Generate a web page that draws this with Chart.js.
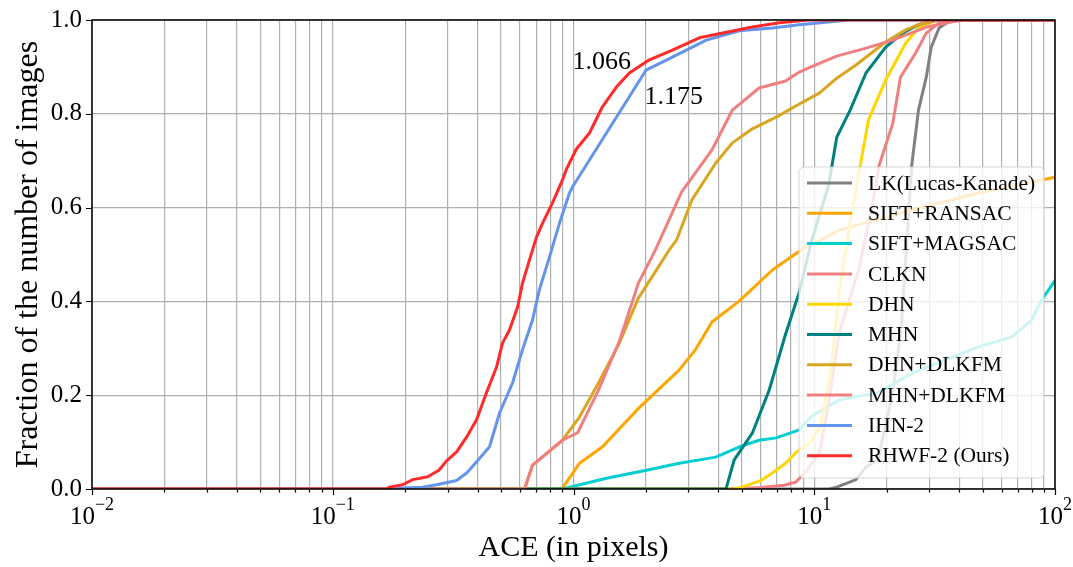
<!DOCTYPE html>
<html>
<head>
<meta charset="utf-8">
<script src="https://cdn.jsdelivr.net/npm/chart.js@4/dist/chart.umd.min.js"></script>
<style>
  html, body { margin: 0; padding: 0; background: #fff; }
  canvas { display: block; }
</style>
</head>
<body>
<canvas id="c" width="1073" height="567"></canvas>
<script>
// ---- data: cumulative fraction of images vs. ACE (pixels), as [ace, fraction] pairs ----
const seriesNames = ['LK(Lucas-Kanade)', 'SIFT+RANSAC', 'SIFT+MAGSAC', 'CLKN', 'DHN', 'MHN',
                     'DHN+DLKFM', 'MHN+DLKFM', 'IHN-2', 'RHWF-2 (Ours)'];

const lkPts = [[0.01,0],[11.5,0],[12.4,0.004],[14.9,0.02],[16.4,0.047],[18.4,0.062],[21.2,0.205],
  [23,0.345],[25.4,0.69],[27.1,0.808],[29.2,0.878],[30.6,0.942],[33,0.983],[36,0.996],[40,1],[100,1]];

const siftRansacPts = [[0.01,0],[0.88,0],[0.9,0.002],[1.06,0.055],[1.32,0.09],[1.83,0.168],[2.75,0.254],
  [3.2,0.296],[3.76,0.356],[4.89,0.401],[6.7,0.467],[8.67,0.507],[12.7,0.552],[25.5,0.595],[48,0.631],[100,0.665]];

const siftMagsacPts = [[0.01,0],[0.9,0],[1.37,0.023],[2.01,0.04],[2.75,0.055],[3.9,0.068],[4.89,0.09],
  [5.9,0.104],[6.95,0.109],[8.67,0.126],[9.7,0.154],[12.7,0.19],[18.4,0.205],[25.5,0.247],[35,0.275],
  [48,0.303],[66,0.324],[80,0.36],[88,0.403],[100,0.445]];

const clknPts = [[0.01,0],[4.5,0],[6.0,0.003],[7.5,0.008],[8.4,0.015],[9.5,0.045],[10.5,0.077],[11.4,0.175],
  [12.7,0.333],[15.4,0.473],[17.8,0.631],[18.6,0.69],[21.2,0.78],[22.8,0.878],[26.4,0.93],[29.2,0.972],
  [33,0.994],[36,1],[100,1]];

const dhnPts = [[0.01,0],[4.6,0],[5.0,0.004],[6.0,0.018],[6.7,0.034],[7.6,0.055],[8.5,0.08],[9.7,0.1],
  [10.6,0.135],[11.7,0.25],[12.7,0.42],[14.1,0.57],[15.4,0.68],[16.8,0.787],[19.8,0.872],[24,0.951],
  [27.1,0.983],[32,1],[100,1]];

const mhnPts = [[0.01,0],[4.3,0],[4.65,0.062],[5.53,0.119],[6.5,0.211],[7.6,0.33],[8.67,0.42],[9.7,0.525],
  [11.5,0.65],[12.4,0.75],[14.1,0.808],[16.4,0.887],[19.8,0.942],[23.3,0.972],[27.1,0.99],[32,1],[100,1]];

const dhnDlkfmPts = [[0.01,0],[0.626,0],[0.676,0.051],[0.9,0.104],[1.06,0.154],[1.27,0.226],[1.55,0.311],
  [1.86,0.407],[2.25,0.473],[2.5,0.51],[2.68,0.531],[3.1,0.616],[3.9,0.695],[4.57,0.738],[5.53,0.768],
  [6.95,0.793],[8.67,0.821],[10.5,0.844],[12.4,0.876],[14.9,0.904],[19.8,0.953],[24,0.979],[27.1,0.99],
  [33,1],[100,1]];

const mhnDlkfmPts = [[0.01,0],[0.626,0],[0.676,0.051],[0.9,0.104],[1.04,0.12],[1.27,0.211],[1.55,0.315],
  [1.86,0.439],[2.19,0.51],[2.81,0.633],[3.76,0.723],[4.57,0.808],[5.9,0.855],[7.6,0.87],[8.67,0.889],
  [9.7,0.9],[12.4,0.923],[16.4,0.94],[21.2,0.957],[29.2,0.985],[37.5,0.996],[42,1],[100,1]];

const ihn2Pts = [[0.01,0],[0.184,0],[0.195,0.002],[0.236,0.004],[0.27,0.009],[0.327,0.018],[0.36,0.034],
  [0.396,0.058],[0.448,0.09],[0.493,0.162],[0.558,0.226],[0.614,0.297],[0.676,0.361],[0.722,0.425],
  [0.795,0.495],[0.875,0.567],[0.962,0.631],[0.99,0.644],[2.0,0.893],[2.575,0.921],[3.56,0.957],
  [4.89,0.977],[6.7,0.983],[8.67,0.99],[14,1],[100,1]];

const rhwf2Pts = [[0.01,0],[0.167,0],[0.172,0.004],[0.195,0.009],[0.215,0.02],[0.248,0.026],[0.276,0.04],
  [0.297,0.06],[0.327,0.079],[0.36,0.111],[0.396,0.148],[0.435,0.205],[0.479,0.26],[0.507,0.311],
  [0.542,0.339],[0.586,0.388],[0.614,0.439],[0.656,0.488],[0.702,0.537],[0.744,0.567],[0.818,0.61],
  [0.9,0.659],[0.935,0.682],[1.028,0.725],[1.165,0.759],[1.319,0.815],[1.507,0.857],[1.706,0.887],
  [2.065,0.915],[2.575,0.936],[3.33,0.962],[4.32,0.974],[5.53,0.985],[7.17,0.994],[9.4,1],[100,1]];

// values printed next to the two best curves, anchored in data coordinates
const noteTexts = ['1.066', '1.175'];
const noteAnchors = [[0.99, 0.91], [1.97, 0.836]];

// axis ticks
const xDecades = [0.01, 0.1, 1, 10, 100];
const xDecadeExponents = [-2, -1, 0, 1, 2];
const yTicks = [0, 0.2, 0.4, 0.6, 0.8, 1.0];

// ---- styling ----
const seriesColors = ['#808080', '#ffa500', '#00ced1', '#f08080', '#ffd700', '#008080',
                      '#daa520', '#f08080', '#6495ed', '#ff2a2a'];
const serif = '"Liberation Serif", "Times New Roman", serif';

const allSeries = [lkPts, siftRansacPts, siftMagsacPts, clknPts, dhnPts, mhnPts,
                   dhnDlkfmPts, mhnDlkfmPts, ihn2Pts, rhwf2Pts];

// minor + major positions on the log axis (1..9 per decade)
const xGridValues = [];
for (let i = 0; i < xDecades.length - 1; i++) {
  for (let k = 1; k <= 9; k++) xGridValues.push(+(k * xDecades[i]).toPrecision(3));
}
xGridValues.push(xDecades[xDecades.length - 1]);

const datasets = allSeries.map((pts, i) => ({
  label: seriesNames[i],
  data: pts.map(p => ({ x: p[0], y: p[1] })),
  borderColor: seriesColors[i],
  backgroundColor: seriesColors[i],
  borderWidth: 3,
  pointRadius: 0,
  tension: 0,
  fill: false,
  borderJoinStyle: 'round',
  borderCapStyle: 'round',
  order: allSeries.length - 1 - i   // later entries drawn on top
}));

// axes frame, tick marks, x tick labels with exponents, notes and legend box
const decorations = {
  id: 'decorations',
  afterDatasetsDraw(chart) {
    const { ctx, chartArea: a, scales: { x, y } } = chart;
    ctx.save();
    ctx.strokeStyle = '#000';
    ctx.lineWidth = 1.2;
    ctx.beginPath();
    xGridValues.forEach(v => {
      const px = Math.round(x.getPixelForValue(v)) + 0.5;
      const len = xDecades.includes(v) ? 6 : 3.5;
      ctx.moveTo(px, a.bottom); ctx.lineTo(px, a.bottom + len);
    });
    yTicks.forEach(v => {
      const py = Math.round(y.getPixelForValue(v)) + 0.5;
      ctx.moveTo(a.left, py); ctx.lineTo(a.left - 6, py);
    });
    ctx.stroke();

    ctx.lineWidth = 1.5;
    ctx.strokeRect(a.left, a.top, a.right - a.left, a.bottom - a.top);

    // x tick labels: 10 with raised exponent
    ctx.fillStyle = '#000';
    ctx.textBaseline = 'alphabetic';
    ctx.textAlign = 'left';
    xDecades.forEach((v, i) => {
      const e = xDecadeExponents[i];
      const expText = e < 0 ? '\u2212' + Math.abs(e) : String(e);
      ctx.font = '25px ' + serif;
      const wb = ctx.measureText('10').width;
      ctx.font = '18px ' + serif;
      const we = ctx.measureText(expText).width;
      const start = x.getPixelForValue(v) - (wb + we) / 2;
      ctx.font = '25px ' + serif;
      ctx.fillText('10', start, 524);
      ctx.font = '18px ' + serif;
      ctx.fillText(expText, start + wb, 510);
    });

    // value notes
    ctx.font = '26px ' + serif;
    ctx.textBaseline = 'middle';
    noteTexts.forEach((t, i) => {
      ctx.fillText(t, x.getPixelForValue(noteAnchors[i][0]), y.getPixelForValue(noteAnchors[i][1]));
    });

    // legend
    const bx = 799, by = 167, bw = 245, bh = 311, r = 5;
    ctx.beginPath();
    ctx.roundRect(bx, by, bw, bh, r);
    ctx.fillStyle = 'rgba(255,255,255,0.8)';
    ctx.fill();
    ctx.strokeStyle = 'rgba(204,204,204,0.8)';
    ctx.lineWidth = 1;
    ctx.stroke();
    ctx.font = '21.5px ' + serif;
    ctx.textBaseline = 'middle';
    seriesNames.forEach((name, i) => {
      const ry = 183 + i * 30.3;
      ctx.strokeStyle = seriesColors[i];
      ctx.lineWidth = 3;
      ctx.beginPath();
      ctx.moveTo(807, ry); ctx.lineTo(852, ry);
      ctx.stroke();
      ctx.fillStyle = '#000';
      ctx.fillText(name, 868, ry + 1);
    });
    ctx.restore();
  }
};

new Chart(document.getElementById('c'), {
  type: 'line',
  data: { datasets },
  options: {
    responsive: false,
    animation: false,
    events: [],
    layout: { padding: { top: 20, right: 18, left: 0, bottom: 0 } },
    plugins: { legend: { display: false }, tooltip: { enabled: false } },
    scales: {
      x: {
        type: 'logarithmic',
        min: 0.01,
        max: 100,
        afterBuildTicks: s => { s.ticks = xGridValues.map(v => ({ value: v })); },
        afterFit: s => { s.height = 78; s.paddingLeft = 0; s.paddingRight = 0; },
        ticks: { display: false },
        grid: { color: '#b0b0b0', lineWidth: 1.2, drawTicks: false },
        border: { display: false },
        title: {
          display: true, text: 'ACE (in pixels)', color: '#000',
          font: { family: serif, size: 30 }, padding: { top: 0, bottom: 1 }
        }
      },
      y: {
        type: 'linear',
        min: 0,
        max: 1,
        afterBuildTicks: s => { s.ticks = yTicks.map(v => ({ value: v })); },
        afterFit: s => { s.width = 92; s.paddingTop = 0; s.paddingBottom = 0; },
        ticks: {
          color: '#000', padding: 10,
          font: { family: serif, size: 25 },
          callback: v => Number(v).toFixed(1)
        },
        grid: { color: '#b0b0b0', lineWidth: 1.2, drawTicks: false },
        border: { display: false },
        title: {
          display: true, text: 'Fraction of the number of images', color: '#000',
          font: { family: serif, size: 32 }, padding: { top: 9, bottom: 0 }
        }
      }
    }
  },
  plugins: [decorations]
});
</script>
</body>
</html>
